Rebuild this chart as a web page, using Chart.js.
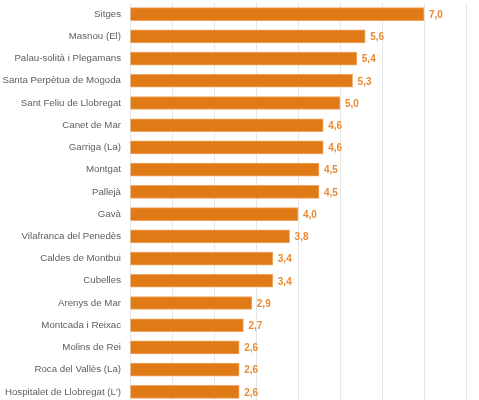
<!DOCTYPE html>
<html>
<head>
<meta charset="utf-8">
<script src="https://cdn.jsdelivr.net/npm/chart.js@4"></script>
<style>
html,body{margin:0;padding:0;overflow:hidden;background:#fff;}
#wrap{position:relative;width:479px;height:403px;}
</style>
</head>
<body>
<div id="wrap"><canvas id="c"></canvas></div>
<script>
const categories = ["Sitges","Masnou (El)","Palau-solità i Plegamans","Santa Perpètua de Mogoda","Sant Feliu de Llobregat","Canet de Mar","Garriga (La)","Montgat","Pallejà","Gavà","Vilafranca del Penedès","Caldes de Montbui","Cubelles","Arenys de Mar","Montcada i Reixac","Molins de Rei","Roca del Vallès (La)","Hospitalet de Llobregat (L')"];
const values = [7.0,5.6,5.4,5.3,5.0,4.6,4.6,4.5,4.5,4.0,3.8,3.4,3.4,2.9,2.7,2.6,2.6,2.6];
const xTicks = [0,1,2,3,4,5,6,7,8];

const valueLabels = {
  id:'valueLabels',
  afterDatasetsDraw(chart){
    const ctx = chart.ctx;
    const meta = chart.getDatasetMeta(0);
    ctx.save();
    ctx.font = 'bold 10px "Liberation Sans", Arial, sans-serif';
    ctx.fillStyle = '#E98A33';
    ctx.textAlign = 'left';
    ctx.textBaseline = 'middle';
    meta.data.forEach((el,i)=>{
      ctx.fillText(values[i].toFixed(1).replace('.',','), el.x + 5, el.y + 1);
    });
    ctx.restore();
  }
};

function zeroPad(ax){ ax.paddingTop = 0; ax.paddingBottom = 0; ax.paddingLeft = 0; ax.paddingRight = 0; }

new Chart(document.getElementById('c'), {
  type:'bar',
  data:{labels:categories, datasets:[{data:values, backgroundColor:'#E07A17', borderColor:'#EFA562', borderWidth:{top:1,bottom:1,right:1,left:0}, borderSkipped:'left', barThickness:13}]},
  options:{
    indexAxis:'y',
    responsive:true,
    maintainAspectRatio:false,
    animation:false,
    layout:{padding:{top:3,right:13,bottom:0,left:0}},
    plugins:{legend:{display:false}, tooltip:{enabled:false}},
    scales:{
      x:{
        min:0, max:8,
        afterBuildTicks(ax){ ax.ticks = xTicks.map(v=>({value:v})); },
        ticks:{display:false},
        grid:{color:'#e6e6e6', drawTicks:false, lineWidth:1},
        border:{display:false},
        afterFit(ax){ ax.height = 0; zeroPad(ax); }
      },
      y:{
        ticks:{color:'#5e5e5e', font:{family:'"Liberation Sans", Arial, sans-serif', size:9.7}, padding:9},
        grid:{display:false, drawTicks:false},
        border:{display:false},
        afterFit(ax){ ax.width = 130; zeroPad(ax); }
      }
    }
  },
  plugins:[valueLabels]
});
</script>
</body>
</html>
